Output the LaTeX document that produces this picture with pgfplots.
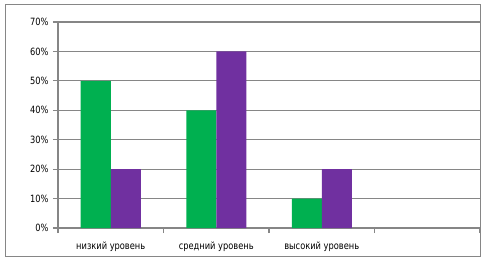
\documentclass[border=0pt]{standalone}
\usepackage{fontspec}
\setmainfont{DejaVu Sans Condensed}[FakeStretch=0.92]
\usepackage{pgfplots}
\pgfplotsset{compat=1.18}
\definecolor{gr}{HTML}{00B050}
\definecolor{pu}{HTML}{7030A0}
\definecolor{ln}{HTML}{868686}
\begin{document}
\begin{tikzpicture}[x=1pt,y=1pt]
\useasboundingbox (0,0) rectangle (484,260);
\draw[ln, line width=1pt] (5.5,3.5) rectangle (480.5,255.5);
\begin{axis}[
  at={(58pt,32pt)}, anchor=south west,
  scale only axis, width=422pt, height=206pt,
  xmin=-0.5, xmax=3.5, ymin=0, ymax=70,
  ybar=0pt, bar width=30pt,
  xtick={-0.5,0.5,1.5,2.5,3.5},
  x tick label as interval,
  xticklabels={низкий уровень, средний уровень, высокий уровень, {}},
  ytick={0,10,...,70},
  yticklabel={\pgfmathprintnumber{\tick}\%},
  /pgf/number format/assume math mode=true,
  tick align=outside,
  major tick length=5pt,
  tick style={ln, line width=1.2pt},
  axis x line*=bottom, axis y line*=left,
  axis line style={ln, line width=1.2pt},
  ymajorgrids, grid style={ln, line width=1.2pt},
  ticklabel style={font=\fontsize{10}{11}\selectfont, text=black},
  yticklabel style={xshift=-1pt},
  xticklabel style={yshift=-5pt},
  clip=false,
]
\addplot[fill=gr, draw=none] coordinates {(0,50) (1,40) (2,10)};
\addplot[fill=pu, draw=none] coordinates {(0,20) (1,60) (2,20)};
\end{axis}
\end{tikzpicture}
\end{document}
